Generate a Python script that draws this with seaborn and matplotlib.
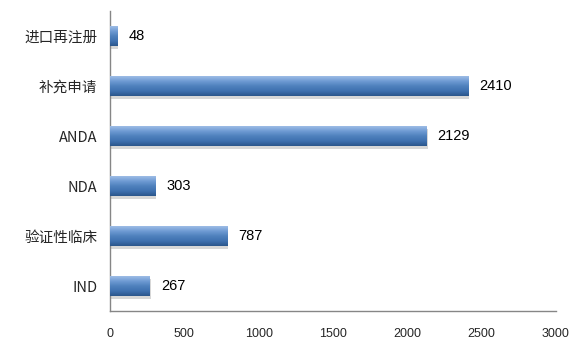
import numpy as np
import pandas as pd
import matplotlib
matplotlib.use("Agg")
import matplotlib.pyplot as plt
import seaborn as sns
from matplotlib.colors import LinearSegmentedColormap

categories = ["进口再注册", "补充申请", "ANDA", "NDA", "验证性临床", "IND"]
values = [48, 2410, 2129, 303, 787, 267]
xticks = [0, 500, 1000, 1500, 2000, 2500, 3000]

sns.set_style("white")
plt.rcParams['font.family'] = ['Noto Sans CJK SC', 'DejaVu Sans']

df = pd.DataFrame({"cat": categories, "val": values})

fig = plt.figure(figsize=(5.84, 3.55), dpi=100)
ax = fig.add_axes([110/584, 44/355, 446/584, 300/355])

sns.barplot(data=df, y="cat", x="val", orient="h", color="#4F81BD",
            width=0.4, ax=ax, edgecolor="none")

cmap = LinearSegmentedColormap.from_list(
    "bar", ["#9dbce6", "#6f9bd3", "#4f81bd", "#3f71b0", "#2b568c"])
grad = np.linspace(0, 1, 64).reshape(-1, 1)
for p in list(ax.patches):
    x0, y0 = p.get_x(), p.get_y()
    w, h = p.get_width(), p.get_height()
    ax.add_patch(plt.Rectangle((x0 + 8, y0 + 0.05), w, h, color="#b0b0b0",
                               alpha=0.5, zorder=1, lw=0))
    im = ax.imshow(grad, extent=[x0, x0 + w, y0 + h, y0], aspect="auto",
                   cmap=cmap, zorder=3, interpolation="bilinear")
    im.set_clip_path(p)
    p.set_zorder(2)

for i, v in enumerate(values):
    ax.text(v + 75, i, str(v), va="center", ha="left", fontsize=10.5,
            color="#000000", family=['Liberation Sans', 'DejaVu Sans'])

ax.set_xlim(0, 3000)
ax.set_ylim(5.5, -0.5)
ax.set_xticks(xticks)
ax.set_xticklabels([str(t) for t in xticks], fontsize=9,
                   family=['Liberation Sans', 'DejaVu Sans'])
ax.set_yticks(range(len(categories)))
ax.set_yticklabels(categories, fontsize=10.5)
ax.set_yticks(np.arange(-0.5, 6, 1), minor=True)
ax.tick_params(axis='y', which='major', length=0, pad=9)
ax.tick_params(axis='y', which='minor', length=5, color="#868686", width=1)
ax.tick_params(axis='x', which='major', length=5, color="#868686", width=1,
               direction='out', pad=7)
ax.set_xlabel("")
ax.set_ylabel("")
for s in ["top", "right"]:
    ax.spines[s].set_visible(False)
for s in ["left", "bottom"]:
    ax.spines[s].set_color("#868686")
    ax.spines[s].set_linewidth(1)

fig.savefig("out.png", dpi=100)
